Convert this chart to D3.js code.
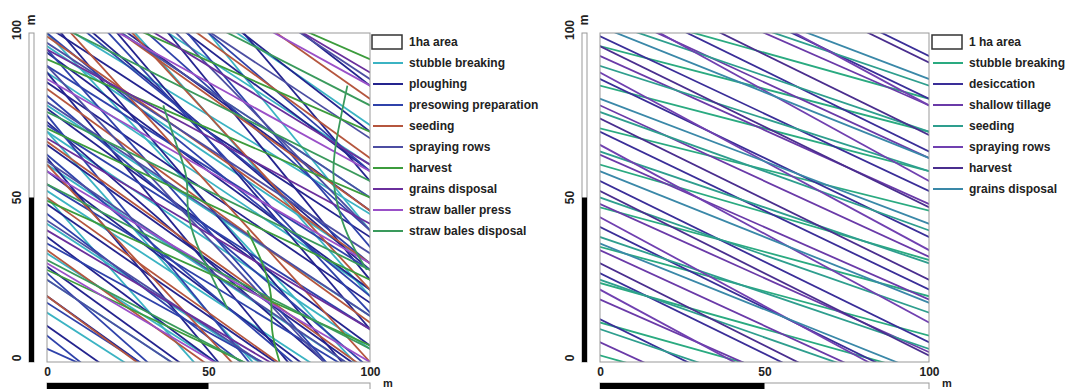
<!DOCTYPE html>
<html>
<head>
<meta charset="utf-8">
<script src="https://cdn.jsdelivr.net/npm/d3@7"></script>
<style>
  body { margin: 0; background: #fff; }
  text { font-family: "Liberation Sans", Arial, sans-serif; font-weight: bold; fill: #222; }
</style>
</head>
<body>
<svg id="chart" width="1067" height="389"></svg>
<script>
// tracks are [y at x=0, y at x=100] in metres, clipped to the 1 ha square
const leftNames = ["stubble breaking", "ploughing", "presowing preparation", "seeding", "spraying rows",
  "harvest", "grains disposal", "straw baller press", "straw bales disposal"];
const leftColors = ["#3bb3c3", "#24248e", "#2f42aa", "#b5563e", "#4c4ea2", "#3c9c3c", "#6a2f9c", "#9a50c8", "#3a9a5c"];
const leftTracks = [
  [[105,45],[96,30],[88,22],[78,14],[70,4],[60,-5],[52,-12],[42,-22],[33,-30],[124,60],[140,72],[115,50],[25,-40],[15,-48],
   [130,20],[100,-5],[70,-40],[160,40],[50,-60]],
  [[102,38],[94,22],[85,18],[77,5],[66,-4],[58,-16],[48,-20],[38,-35],[29,-42],[118,46],[132,58],[146,70],[20,-50],[11,-58],[160,84],
   [125,10],[105,-10],[88,-30],[145,25],[62,-55],[170,55],[112,28],[73,-12]],
  [[100,20],[90,28],[81,-2],[72,10],[63,-20],[54,-6],[45,-30],[36,-18],[110,30],[127,40],[142,58],[27,-60],[18,-45],[8,-70],
   [120,15],[95,-15],[75,-45],[150,35],[4,-40]],
  [[99,30],[83,12],[67,-3],[50,-20],[34,-36],[116,46],[133,62],[149,80],[20,-52],[108,0],[128,22],[60,-45]],
  [[97,33],[79,14],[61,-5],[43,-22],[25,-40],[115,50],[133,68],[151,86],[140,40],[90,-15]],
  [[92,50],[71,25],[49,5],[28,-18],[113,70],[135,92]],
  [[95,42],[68,10],[40,-18],[120,60],[146,88]],
  [[86,30],[58,0],[30,-28],[112,58],[138,84]],
  [[104,55],[76,28],[54,4],[31,-20],[128,78]]
];
// curved turning paths (x, y points)
const leftCurves = [
  { series: 8, pts: [[36,78],[40,66],[44,56],[43,46],[46,36],[51,26],[56,16]] },
  { series: 8, pts: [[93,84],[90,70],[88,58],[90,46],[94,36],[99,28]] },
  { series: 5, pts: [[62,40],[67,30],[70,20],[69,10],[72,0]] }
];

const rightNames = ["stubble breaking", "desiccation", "shallow tillage", "seeding", "spraying rows", "harvest", "grains disposal"];
const rightColors = ["#2aaa80", "#3a2e98", "#6a3aa8", "#2e9e8e", "#7040b0", "#4a2e8e", "#3a88a8"];
const rightTracks = [
  [[96,70],[84,58],[71,46],[60,31],[47,20],[35,8],[24,-4],[12,-16],[108,80],[2,-26]],
  [[99,52],[86,38],[70,22],[55,6],[41,-8],[27,-22],[13,-36],[113,64],[128,80],[142,93]],
  [[93,48],[78,32],[63,19],[48,3],[34,-12],[19,-25],[6,-40],[108,62],[122,78]],
  [[90,58],[76,40],[64,30],[50,15],[38,4],[25,-10],[10,-24],[104,70],[118,84]],
  [[88,34],[66,12],[44,-10],[22,-32],[110,55],[132,78]],
  [[96,47],[74,25],[52,2],[30,-20],[118,69],[140,91]],
  [[80,42],[58,18],[36,-4],[102,62],[124,86]]
];
const tickValues = [0, 50, 100];

const svg = d3.select("#chart");

function drawPanel(id, x0, x1, names, colors, tracks, curves, legendX) {
  const x = d3.scaleLinear().domain([0, 100]).range([x0, x1]);
  const y = d3.scaleLinear().domain([0, 100]).range([362, 33]);
  const g = svg.append("g");

  g.append("clipPath").attr("id", "clip" + id)
    .append("rect").attr("x", x(0)).attr("y", y(100))
    .attr("width", x(100) - x(0)).attr("height", y(0) - y(100));

  const plot = g.append("g").attr("clip-path", "url(#clip" + id + ")");
  const line = d3.line().x(d => x(d[0])).y(d => y(d[1]));
  const curve = d3.line().x(d => x(d[0])).y(d => y(d[1])).curve(d3.curveBasis);

  tracks.forEach((set, i) => {
    plot.selectAll(null).data(set).enter().append("path")
      .attr("d", d => line([[-5, d[0] + (d[0] - d[1]) * 0.05], [105, d[1] - (d[0] - d[1]) * 0.05]]))
      .attr("fill", "none")
      .attr("stroke", colors[i])
      .attr("stroke-width", 1.8);
  });
  curves.forEach(c => {
    plot.append("path").attr("d", curve(c.pts))
      .attr("fill", "none").attr("stroke", colors[c.series]).attr("stroke-width", 1.8);
  });

  g.append("rect").attr("x", x(0)).attr("y", y(100))
    .attr("width", x(100) - x(0)).attr("height", y(0) - y(100))
    .attr("fill", "none").attr("stroke", "#999").attr("stroke-width", 1);

  // bottom axis labels
  const xAxis = g.append("g").attr("transform", "translate(0,368)")
    .call(d3.axisBottom(x).tickValues(tickValues).tickSize(0));
  xAxis.select(".domain").remove();
  xAxis.selectAll("text").attr("font-size", 12).attr("dy", "0.35em").attr("y", 4);

  // left axis labels, rotated
  const yAxis = g.append("g").attr("transform", "translate(" + (x0 - 30) + ",0)")
    .call(d3.axisLeft(y).tickValues(tickValues).tickSize(0));
  yAxis.select(".domain").remove();
  yAxis.selectAll(".tick text")
    .attr("x", 0).attr("dy", "0.35em")
    .attr("text-anchor", "middle")
    .attr("font-size", 12)
    .attr("transform", "rotate(-90)");
  yAxis.selectAll(".tick").attr("transform", d => "translate(0," + (d === 100 ? y(d) - 3 : d === 0 ? y(d) - 4 : y(d)) + ")");

  // scale bars
  const barX = x0 - 18;
  g.append("rect").attr("x", barX).attr("y", y(100)).attr("width", 5).attr("height", y(0) - y(100))
    .attr("fill", "#fff").attr("stroke", "#999");
  g.append("rect").attr("x", barX).attr("y", y(50)).attr("width", 5).attr("height", y(0) - y(50))
    .attr("fill", "#000");
  g.append("rect").attr("x", x(0)).attr("y", 383).attr("width", x(100) - x(0)).attr("height", 7)
    .attr("fill", "#fff").attr("stroke", "#999");
  g.append("rect").attr("x", x(0)).attr("y", 383).attr("width", x(50) - x(0)).attr("height", 7)
    .attr("fill", "#000");
  g.append("text").attr("x", x(100) + 13).attr("y", 387).attr("font-size", 11).text("m");
  g.append("text").attr("transform", "translate(" + (barX + 6) + ",20) rotate(-90)")
    .attr("text-anchor", "middle").attr("font-size", 12).text("m");

  // legend
  const lg = g.append("g").attr("transform", "translate(" + legendX + ",0)");
  lg.append("rect").attr("x", 0).attr("y", 35).attr("width", 30).attr("height", 14)
    .attr("fill", "#fff").attr("stroke", "#333").attr("stroke-width", 1.5);
  lg.append("text").attr("x", 37).attr("y", 42).attr("dy", "0.35em").attr("font-size", 12)
    .text(id === "L" ? "1ha area" : "1 ha area");
  names.forEach((n, i) => {
    const ly = 63 + i * 21;
    lg.append("line").attr("x1", 1).attr("x2", 31).attr("y1", ly).attr("y2", ly)
      .attr("stroke", colors[i]).attr("stroke-width", 2);
    lg.append("text").attr("x", 37).attr("y", ly).attr("dy", "0.35em").attr("font-size", 12).text(n);
  });
}

drawPanel("L", 47, 370, leftNames, leftColors, leftTracks, leftCurves, 372);
drawPanel("R", 600, 929, rightNames, rightColors, rightTracks, [], 932);
</script>
</body>
</html>
